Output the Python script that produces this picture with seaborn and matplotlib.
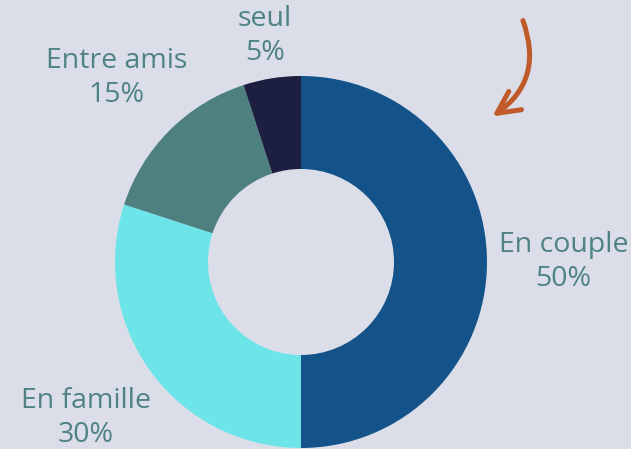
import numpy as np
import matplotlib
matplotlib.use("Agg")
import matplotlib.pyplot as plt
import seaborn as sns
from matplotlib.patches import FancyArrowPatch

labels = ["En couple", "En famille", "Entre amis", "seul"]
shares = [50, 30, 15, 5]
colors = ["#135389", "#6de5e8", "#4e8080", "#1c1f3f"]

sns.set_style("white")
plt.rcParams["font.family"] = ["Open Sans", "DejaVu Sans"]

bg = "#dbdee9"
txt_col = "#4f8282"

fig = plt.figure(figsize=(6.31, 4.49), dpi=100, facecolor=bg)
ax = fig.add_axes([0, 0, 1, 1])
ax.set_facecolor(bg)

cx, cy, R = 301, 187, 186
wedges, _ = ax.pie(shares, colors=sns.color_palette(colors), startangle=90,
                   counterclock=False, center=(cx, cy), radius=R,
                   wedgeprops=dict(width=R * 0.5, linewidth=0), frame=True)
ax.set_xlim(0, 631)
ax.set_ylim(0, 449)
ax.set_aspect("equal")
ax.axis("off")

# distance of each label from the centre, in radii
dist = [1.41, 1.43, 1.40, 1.23]
for w, lab, s, d in zip(wedges, labels, shares, dist):
    mid = np.deg2rad((w.theta1 + w.theta2) / 2)
    x = cx + d * R * np.cos(mid)
    y = cy + d * R * np.sin(mid)
    ax.text(x, y, f"{lab}\n{s}%", ha="center", va="center", fontsize=20.5,
            color=txt_col, linespacing=1.28)

arrow = FancyArrowPatch((522, 431), (490, 331),
                        connectionstyle="arc3,rad=-0.4",
                        arrowstyle="->,head_length=16,head_width=8",
                        color="#c05a2a", linewidth=3.6, capstyle="round",
                        joinstyle="round")
ax.add_patch(arrow)

fig.savefig("out.png", dpi=100, facecolor=bg)
